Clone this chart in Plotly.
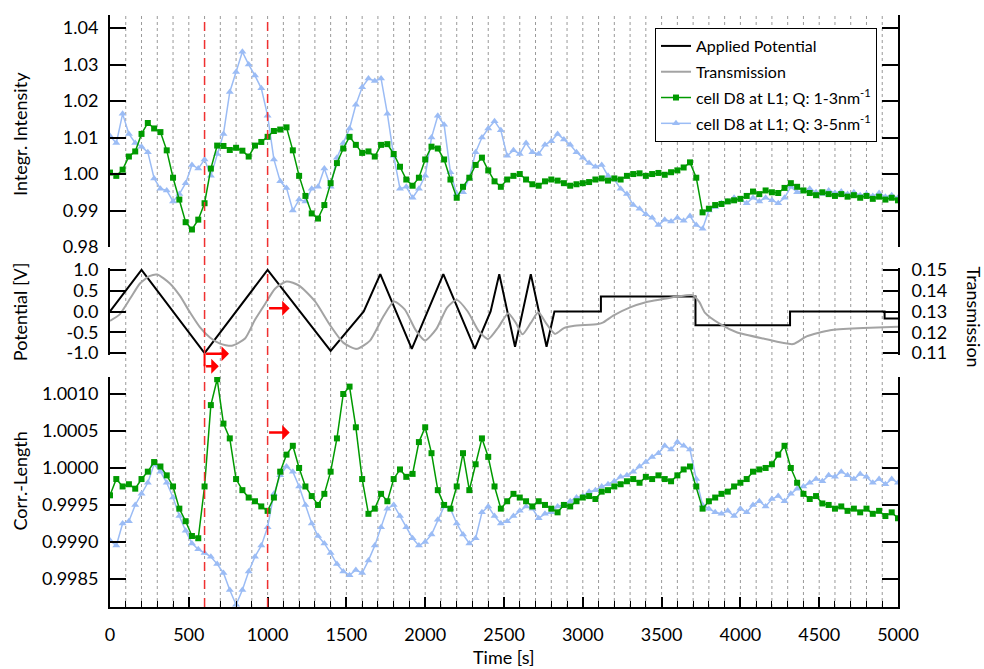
import plotly.graph_objects as go

# ---------------- data ----------------
time_s = list(range(0, 5001, 40))

intensity_q13 = [
    1.0004, 0.9995, 1.0012, 1.0048, 1.0062, 1.0110, 1.0140, 1.0125, 1.0115, 1.0065,
    0.9990, 0.9930, 0.9868, 0.9848, 0.9875, 0.9920, 1.0015, 1.0078, 1.0077, 1.0066,
    1.0072, 1.0064, 1.0048, 1.0078, 1.0088, 1.0102, 1.0118, 1.0122, 1.0128, 1.0065,
    0.9995, 0.9940, 0.9892, 0.9878, 0.9915, 0.9975, 1.0030, 1.0070, 1.0102, 1.0080,
    1.0058, 1.0062, 1.0048, 1.0080, 1.0082, 1.0055, 1.0020, 0.9985, 0.9968, 0.9990,
    1.0040, 1.0075, 1.0070, 1.0040, 0.9985, 0.9935, 0.9965, 0.9990, 1.0025, 1.0045,
    1.0010, 0.9980, 0.9965, 0.9985, 0.9995, 1.0000, 0.9985, 0.9972, 0.9968, 0.9980,
    0.9985, 0.9982, 0.9975, 0.9968, 0.9972, 0.9975, 0.9978, 0.9985, 0.9988, 0.9982,
    0.9988, 0.9985, 0.9995, 1.0000, 1.0002, 0.9995, 1.0000, 1.0003, 0.9998, 1.0005,
    1.0010, 1.0018, 1.0032, 0.9990, 0.9895, 0.9905, 0.9915, 0.9918, 0.9925, 0.9928,
    0.9932, 0.9940, 0.9952, 0.9945, 0.9955, 0.9950, 0.9948, 0.9962, 0.9975, 0.9965,
    0.9955, 0.9948, 0.9942, 0.9950, 0.9945, 0.9940, 0.9945, 0.9938, 0.9942, 0.9935,
    0.9940, 0.9932, 0.9938, 0.9930, 0.9935, 0.9928,
]

intensity_q35 = [
    1.0104, 1.0085, 1.0165, 1.0110, 1.0085, 1.0075, 1.0060, 0.9988, 0.9960, 0.9955,
    0.9925, 0.9945, 0.9975, 1.0025, 1.0015, 1.0040, 0.9995, 1.0055, 1.0110, 1.0225,
    1.0280, 1.0335, 1.0300, 1.0270, 1.0235, 1.0160, 1.0040, 0.9980, 0.9962, 0.9900,
    0.9930, 0.9925, 0.9960, 0.9965, 1.0015, 0.9965, 1.0045, 1.0085, 1.0125, 1.0190,
    1.0238, 1.0262, 1.0255, 1.0262, 1.0165, 1.0050, 0.9960, 0.9965, 0.9935, 0.9960,
    0.9995, 1.0100, 1.0160, 1.0135, 1.0005, 0.9945, 0.9950, 0.9990, 1.0060, 1.0100,
    1.0125, 1.0145, 1.0120, 1.0050, 1.0065, 1.0055, 1.0085, 1.0060, 1.0055, 1.0080,
    1.0090, 1.0110, 1.0095, 1.0080, 1.0060, 1.0045, 1.0030, 1.0020, 1.0025, 0.9995,
    0.9985, 0.9960, 0.9945, 0.9915, 0.9905, 0.9890, 0.9880, 0.9860, 0.9875, 0.9870,
    0.9880, 0.9872, 0.9885, 0.9860, 0.9850, 0.9900, 0.9910, 0.9920, 0.9925, 0.9935,
    0.9930, 0.9920, 0.9935, 0.9925, 0.9935, 0.9928, 0.9920, 0.9935, 0.9965, 0.9950,
    0.9955, 0.9960, 0.9950, 0.9945, 0.9955, 0.9948, 0.9952, 0.9945, 0.9950, 0.9942,
    0.9945, 0.9940, 0.9948, 0.9938, 0.9942, 0.9935,
]

corr_q13 = [
    0.99963, 0.99985, 0.99975, 0.99978, 0.99972, 0.99985, 0.99995, 1.00008, 1.00002, 0.99990,
    0.99975, 0.99945, 0.99928, 0.99908, 0.99905, 0.99975, 1.00085, 1.00120, 1.00060, 1.00040,
    0.99985, 0.99970, 0.99960, 0.99955, 0.99948, 0.99942, 0.99960, 0.99995, 1.00018, 1.00030,
    1.00000, 0.99975, 0.99962, 0.99950, 0.99965, 0.99995, 1.00040, 1.00100, 1.00110, 1.00055,
    0.99985, 0.99938, 0.99945, 0.99965, 0.99955, 0.99985, 0.99998, 0.99988, 0.99992, 1.00035,
    1.00055, 1.00020, 0.99970, 0.99950, 0.99945, 0.99975, 1.00020, 0.99970, 1.00005, 1.00040,
    1.00015, 0.99975, 0.99945, 0.99955, 0.99965, 0.99960, 0.99955, 0.99948, 0.99955, 0.99950,
    0.99945, 0.99940, 0.99950, 0.99948, 0.99955, 0.99960, 0.99962, 0.99958, 0.99968, 0.99970,
    0.99975, 0.99978, 0.99982, 0.99985, 0.99980, 0.99988, 0.99985, 0.99990, 0.99985, 0.99982,
    0.99990, 0.99998, 1.00002, 0.99975, 0.99945, 0.99955, 0.99960, 0.99965, 0.99968, 0.99975,
    0.99980, 0.99985, 0.99995, 0.99998, 1.00000, 1.00005, 1.00018, 1.00030, 1.00000, 0.99980,
    0.99965, 0.99958, 0.99962, 0.99952, 0.99950, 0.99945, 0.99948, 0.99942, 0.99945, 0.99940,
    0.99945, 0.99938, 0.99942, 0.99935, 0.99940, 0.99932,
]

corr_q35 = [
    0.99902, 0.99895, 0.99925, 0.99928, 0.99950, 0.99965, 0.99980, 1.00005, 0.99995, 0.99980,
    0.99960, 0.99935, 0.99915, 0.99898, 0.99890, 0.99885, 0.99880, 0.99870, 0.99858, 0.99835,
    0.99815, 0.99835, 0.99860, 0.99880, 0.99895, 0.99920, 0.99965, 0.99990, 1.00002, 0.99995,
    0.99975, 0.99950, 0.99925, 0.99908, 0.99898, 0.99885, 0.99870, 0.99860, 0.99855, 0.99862,
    0.99858, 0.99875, 0.99895, 0.99920, 0.99945, 0.99950, 0.99935, 0.99920, 0.99905, 0.99895,
    0.99900, 0.99910, 0.99930, 0.99948, 0.99945, 0.99925, 0.99910, 0.99898, 0.99905, 0.99940,
    0.99948, 0.99935, 0.99925, 0.99928, 0.99935, 0.99942, 0.99948, 0.99945, 0.99932, 0.99938,
    0.99940, 0.99948, 0.99950, 0.99955, 0.99960, 0.99962, 0.99968, 0.99970, 0.99975, 0.99978,
    0.99982, 0.99988, 0.99990, 0.99995, 1.00002, 1.00008, 1.00015, 1.00020, 1.00030, 1.00025,
    1.00035, 1.00030, 1.00025, 0.99985, 0.99950, 0.99945, 0.99940, 0.99938, 0.99942, 0.99935,
    0.99945, 0.99940, 0.99950, 0.99955, 0.99948, 0.99958, 0.99962, 0.99955, 0.99965, 0.99972,
    0.99975, 0.99980, 0.99985, 0.99982, 0.99990, 0.99988, 0.99995, 0.99990, 0.99985, 0.99992,
    0.99988, 0.99980, 0.99985, 0.99978, 0.99985, 0.99980,
]

pot_t = [0, 200, 600, 1000, 1400, 1610, 1715, 1915, 2115, 2315, 2415, 2470, 2570,
         2670, 2770, 2820, 3115, 3115, 3715, 3715, 4315, 4315, 4915, 4915, 5000]
pot_v = [0.0, 1.0, -1.0, 1.0, -0.95, 0.0, 0.9, -0.9, 0.9, -0.9, 0.0, 0.9, -0.85,
         0.9, -0.85, 0.0, 0.0, 0.36, 0.36, -0.33, -0.33, 0.0, 0.0, -0.17, -0.17]

trans_t = [0, 60, 130, 190, 250, 300, 380, 444, 508, 570, 634, 698, 772, 857, 920,
           983, 1047, 1121, 1200, 1300, 1400, 1480, 1565, 1650, 1730, 1802, 1870,
           1940, 1999, 2070, 2140, 2200, 2270, 2340, 2400, 2465, 2527, 2575, 2618,
           2670, 2718, 2770, 2824, 2880, 2938, 3096, 3130, 3193, 3300, 3400, 3510,
           3600, 3700, 3740, 3776, 3870, 3976, 4145, 4334, 4420, 4569, 4780, 5000]
trans_v = [0.1255, 0.1285, 0.1365, 0.1435, 0.1470, 0.1478, 0.1435, 0.1375, 0.1295,
           0.1225, 0.1175, 0.1145, 0.1135, 0.1170, 0.1260, 0.1335, 0.1410, 0.1445,
           0.1425, 0.1350, 0.1230, 0.1150, 0.1120, 0.1160, 0.1270, 0.1348, 0.1310,
           0.1210, 0.1160, 0.1215, 0.1320, 0.1356, 0.1300, 0.1205, 0.1167, 0.1225,
           0.1292, 0.1245, 0.1190, 0.1245, 0.1296, 0.1240, 0.1192, 0.1220, 0.1230,
           0.1240, 0.1248, 0.1280, 0.1320, 0.1345, 0.1360, 0.1372, 0.1378, 0.1345,
           0.1293, 0.1240, 0.1200, 0.1170, 0.1143, 0.1180, 0.1210, 0.1220, 0.1227]

grid_times = list(range(100, 5000, 100))
marker_times = [600, 1000]

# ---------------- styling ----------------
FONT = "Lato"
GREEN = "#009a00"
BLUE = "#9bbcf5"
BLACK = "black"

fig = go.Figure()

fig.add_trace(go.Scatter(x=pot_t, y=pot_v, name="Applied Potential", mode="lines",
                         line=dict(color=BLACK, width=2), xaxis="x", yaxis="y3",
                         legendrank=1, legendgroup="a"))
fig.add_trace(go.Scatter(x=trans_t, y=trans_v, name="Transmission", mode="lines",
                         line=dict(color="#a3a3a3", width=2, shape="spline", smoothing=0.6),
                         xaxis="x", yaxis="y4", legendrank=2, legendgroup="b"))
fig.add_trace(go.Scatter(x=time_s, y=intensity_q35, name="cell D8 at L1; Q: 3-5nm<sup>-1</sup>",
                         mode="lines+markers", line=dict(color=BLUE, width=1.5),
                         marker=dict(symbol="triangle-up", size=7, color=BLUE),
                         xaxis="x", yaxis="y2", legendrank=4, legendgroup="d"))
fig.add_trace(go.Scatter(x=time_s, y=corr_q35, mode="lines+markers", showlegend=False,
                         line=dict(color=BLUE, width=1.5), legendgroup="d",
                         marker=dict(symbol="triangle-up", size=7, color=BLUE),
                         xaxis="x", yaxis="y"))
fig.add_trace(go.Scatter(x=time_s, y=intensity_q13, name="cell D8 at L1; Q: 1-3nm<sup>-1</sup>",
                         mode="lines+markers", line=dict(color=GREEN, width=1.5),
                         marker=dict(symbol="square", size=6, color=GREEN),
                         xaxis="x", yaxis="y2", legendrank=3, legendgroup="c"))
fig.add_trace(go.Scatter(x=time_s, y=corr_q13, mode="lines+markers", showlegend=False,
                         line=dict(color=GREEN, width=1.5), legendgroup="c",
                         marker=dict(symbol="square", size=6, color=GREEN),
                         xaxis="x", yaxis="y"))

tick_font = dict(family=FONT, size=18, color="black")
common_y = dict(ticks="inside", ticklen=16, tickwidth=1.5, tickcolor="black",
                showline=True, linewidth=2, linecolor="black", showgrid=False,
                zeroline=False, tickfont=tick_font, ticklabelstandoff=6,
                automargin=False)

fig.update_layout(
    width=984, height=669,
    margin=dict(l=110, r=86, t=15, b=62, autoexpand=False),
    paper_bgcolor="white", plot_bgcolor="white",
    font=dict(family=FONT, size=18, color="black"),
    showlegend=True,
    legend=dict(x=0.6916, y=0.978, xanchor="left", yanchor="top",
                bgcolor="white", bordercolor="black", borderwidth=1,
                font=dict(family=FONT, size=16, color="black"),
                traceorder="grouped", tracegroupgap=2),
    xaxis=dict(domain=[0, 1], range=[0, 5000], anchor="y",
               tickmode="linear", tick0=0, dtick=500,
               ticks="inside", ticklen=10, tickwidth=1.5, tickcolor="black",
               minor=dict(dtick=100, tick0=0, ticks="inside", ticklen=6, tickwidth=1,
                          tickcolor="black", showgrid=False),
               showline=True, linewidth=2, linecolor="black", showgrid=False,
               zeroline=False, tickfont=tick_font, ticklabelstandoff=10,
               automargin=False),
    xaxis2=dict(overlaying="x", anchor="y2", side="top", range=[0, 5000],
                tickmode="linear", tick0=0, dtick=500,
                ticks="inside", ticklen=10, tickwidth=1.5, tickcolor="black",
                minor=dict(dtick=100, tick0=0, ticks="inside", ticklen=6, tickwidth=1,
                           tickcolor="black", showgrid=False),
                showline=True, linewidth=2, linecolor="black", showgrid=False,
                zeroline=False, showticklabels=False, automargin=False),
    yaxis=dict(domain=[0, 0.3885], range=[0.99812, 1.00123], anchor="x",
               tickmode="linear", tick0=0.9985, dtick=0.0005, tickformat=".4f",
               mirror="ticks", **common_y),
    yaxis2=dict(domain=[0.6081, 1.0], range=[0.98, 1.0436], anchor="x",
                tickmode="linear", tick0=0.98, dtick=0.01, tickformat=".2f",
                mirror="ticks", **common_y),
    yaxis3=dict(domain=[0.4255, 0.5728], range=[-1.05, 1.05], anchor="x",
                tickvals=[-1, -0.5, 0, 0.5, 1],
                ticktext=["-1.0", "-0.5", "0.0", "0.5", "1.0"], **common_y),
    yaxis4=dict(overlaying="y3", side="right", anchor="x", range=[0.109, 0.151],
                tickvals=[0.11, 0.12, 0.13, 0.14, 0.15],
                ticktext=["0.11", "0.12", "0.13", "0.14", "0.15"],
                ticks="inside", ticklen=15, tickwidth=1.5, tickcolor="black",
                showline=True, linewidth=2, linecolor="black", showgrid=False,
                zeroline=False, tickfont=tick_font, ticklabelstandoff=8,
                automargin=False),
)

shapes = []
for g in grid_times:
    shapes.append(dict(type="line", xref="x", yref="paper", x0=g, x1=g, y0=0, y1=1,
                       line=dict(color="#9a9a9a", width=1, dash="dot"), layer="below"))
for m in marker_times:
    shapes.append(dict(type="line", xref="x", yref="paper", x0=m, x1=m, y0=0, y1=1,
                       line=dict(color="#f03030", width=1.5, dash="dash"), layer="above"))
shapes.append(dict(type="line", xref="x", yref="paper", x0=600, x1=600, y0=0.4066, y1=0.4274,
                   line=dict(color="#ff0000", width=2), layer="above"))
fig.update_layout(shapes=shapes)

title_font = dict(family=FONT, size=18, color="black")
title_common = dict(xref="paper", yref="paper", showarrow=False, font=title_font,
                    xanchor="center", yanchor="middle")
annotations = [
    dict(text="Integr. Intensity", x=-0.1142, y=0.799, textangle=-90, **title_common),
    dict(text="Potential [V]", x=-0.1142, y=0.498, textangle=-90, **title_common),
    dict(text="Corr.-Length", x=-0.1142, y=0.212, textangle=-90, **title_common),
    dict(text="Transmission", x=1.0977, y=0.489, textangle=90, **title_common),
    dict(text="Time [s]", x=0.5, y=-0.0845, **title_common),
]
arrow_style = dict(showarrow=True, arrowhead=1, arrowsize=1, arrowwidth=2.5,
                   arrowcolor="#ff0000", text="", standoff=0, startstandoff=0)
annotations.append(dict(x=1140, y=0.08, ax=1000, ay=0.08, xref="x", yref="y3",
                        axref="x", ayref="y3", **arrow_style))
annotations.append(dict(x=755, y=-1.02, ax=600, ay=-1.02, xref="x", yref="y3",
                        axref="x", ayref="y3", **arrow_style))
annotations.append(dict(x=690, y=0.4066, ax=600, ay=0, xref="x", yref="paper",
                        axref="x", ayref="pixel", **arrow_style))
annotations.append(dict(x=1140, y=1.00048, ax=1000, ay=1.00048, xref="x", yref="y",
                        axref="x", ayref="y", **arrow_style))
fig.update_layout(annotations=annotations)

fig.write_html("out.html")
